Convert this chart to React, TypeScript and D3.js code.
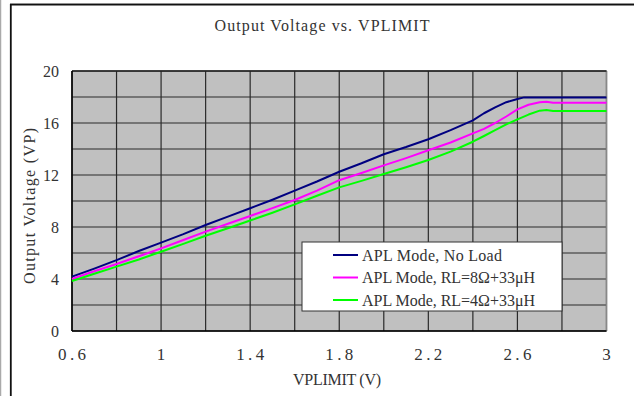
import React from "react";
import * as d3 from "d3";

// VPLIMIT sweep (V)
const xNoLoad = [0.6, 0.7, 0.8, 0.9, 1.0, 1.1, 1.2, 1.3, 1.4, 1.5, 1.6, 1.7, 1.8, 1.9, 2.0, 2.1, 2.2, 2.3, 2.4, 2.45, 2.5, 2.55, 2.6, 2.63, 3.0];
const yNoLoad = [4.18, 4.8, 5.45, 6.15, 6.8, 7.45, 8.15, 8.8, 9.44, 10.1, 10.8, 11.5, 12.25, 12.9, 13.6, 14.15, 14.75, 15.45, 16.2, 16.75, 17.2, 17.6, 17.85, 17.97, 17.97];

const xLoad = [0.6, 0.7, 0.8, 0.9, 1.0, 1.1, 1.2, 1.3, 1.4, 1.5, 1.6, 1.7, 1.8, 1.9, 2.0, 2.1, 2.2, 2.3, 2.4, 2.45, 2.5, 2.55, 2.6, 2.65, 2.7, 2.73, 2.76, 3.0];
const yRL8 = [4.0, 4.6, 5.15, 5.75, 6.36, 7.0, 7.64, 8.25, 8.85, 9.45, 10.08, 10.8, 11.6, 12.15, 12.74, 13.3, 13.9, 14.5, 15.2, 15.55, 16.0, 16.5, 17.05, 17.4, 17.6, 17.64, 17.56, 17.56];
const yRL4 = [3.85, 4.4, 4.95, 5.5, 6.1, 6.7, 7.33, 7.9, 8.5, 9.1, 9.74, 10.4, 11.05, 11.55, 12.08, 12.6, 13.15, 13.8, 14.56, 15.0, 15.45, 15.9, 16.28, 16.65, 16.95, 17.0, 16.92, 16.92];

const seriesNames = ["APL Mode, No Load", "APL Mode, RL=8Ω+33μH", "APL Mode, RL=4Ω+33μH"];
const seriesColors = ["#000080", "#FF00FF", "#00FF00"];

const xTicks = [0.6, 1.0, 1.4, 1.8, 2.2, 2.6, 3.0];
const xTickLabels = ["0.6", "1", "1.4", "1.8", "2.2", "2.6", "3"];
const yTicks = [0, 4, 8, 12, 16, 20];

const W = 634;
const H = 396;
const FONT = "'Liberation Serif', 'DejaVu Serif', serif";
const INK = "#333";

export default function App() {
  const left = 72, right = 606.5, top = 71, bottom = 331;
  const x = d3.scaleLinear().domain([0.6, 3.0]).range([left, right]);
  const y = d3.scaleLinear().domain([0, 20]).range([bottom, top]);

  const gridX = d3.range(0.6, 3.0001, 0.2);
  const gridY = d3.range(0, 20.0001, 2);

  const line = d3
    .line<[number, number]>()
    .x((d) => x(d[0]))
    .y((d) => y(d[1]));

  const series: [number, number][][] = [
    xNoLoad.map((v, i) => [v, yNoLoad[i]]),
    xLoad.map((v, i) => [v, yRL8[i]]),
    xLoad.map((v, i) => [v, yRL4[i]]),
  ];

  const legendWidths = [140, 173, 173];

  return (
    <svg
      width={W}
      height={H}
      style={{ position: "absolute", left: 0, top: 0, background: "#fff" }}
    >
      {/* outer frame */}
      <line x1={0.5} y1={0} x2={0.5} y2={H} stroke="#aaa" strokeWidth={1.5} />
      <line x1={10} y1={3.5} x2={W} y2={3.5} stroke="#bbb" strokeWidth={1} />
      <path d={`M10.8,${H} V4.6 H${W}`} fill="none" stroke="#111" strokeWidth={1.8} />

      {/* title */}
      <text x={322} y={31} fontFamily={FONT} fontSize={16} textAnchor="middle" textLength={215} lengthAdjust="spacing" fill={INK}>
        Output Voltage vs. VPLIMIT
      </text>

      {/* plot background */}
      <rect x={left} y={top} width={right - left} height={bottom - top} fill="#C0C0C0" />

      {/* grid */}
      {gridX.map((v, i) => (
        <line key={"gx" + i} x1={x(v)} x2={x(v)} y1={top} y2={bottom} stroke="#2a2a2a" strokeWidth={1.2} />
      ))}
      {gridY.map((v, i) => (
        <line key={"gy" + i} x1={left} x2={right} y1={y(v)} y2={y(v)} stroke="#2a2a2a" strokeWidth={1.2} />
      ))}
      <line x1={right} x2={right} y1={top} y2={bottom} stroke="#888" strokeWidth={1.5} />
      <line x1={left} x2={right} y1={top} y2={top} stroke="#222" strokeWidth={1.5} />
      <line x1={left} x2={left} y1={top} y2={bottom} stroke="#000" strokeWidth={1.5} />
      <line x1={left} x2={right} y1={bottom} y2={bottom} stroke="#000" strokeWidth={1.5} />

      {/* data lines */}
      {series.map((s, i) => (
        <path key={"s" + i} d={line(s) || ""} fill="none" stroke={seriesColors[i]} strokeWidth={2} strokeLinejoin="round" />
      ))}

      {/* y tick labels */}
      {yTicks.map((v) => (
        <text key={"yt" + v} x={59} y={y(v) + 6} fontFamily={FONT} fontSize={17} textAnchor="end" textLength={String(v).length * 8} lengthAdjust="spacingAndGlyphs" fill={INK}>
          {v}
        </text>
      ))}

      {/* x tick labels */}
      {xTicks.map((v, i) => (
        <text key={"xt" + i} x={x(v)} y={360} fontFamily={FONT} fontSize={17} textAnchor="middle" textLength={xTickLabels[i].length * 8 + (xTickLabels[i].length > 1 ? 4 : 0)} lengthAdjust="spacing" fill={INK}>
          {xTickLabels[i]}
        </text>
      ))}

      {/* axis titles */}
      <text x={337} y={385} fontFamily={FONT} fontSize={16} textAnchor="middle" textLength={88} lengthAdjust="spacing" fill={INK}>
        VPLIMIT (V)
      </text>
      <text transform="translate(35,206) rotate(-90)" fontFamily={FONT} fontSize={16} textAnchor="middle" textLength={156} lengthAdjust="spacing" fill={INK}>
        Output Voltage (VP)
      </text>

      {/* legend */}
      <rect x={302} y={242} width={260} height={69} fill="#fff" stroke="#333" strokeWidth={1} />
      {seriesNames.map((name, i) => (
        <g key={"lg" + i}>
          <line x1={333} x2={358} y1={255 + i * 22.5} y2={255 + i * 22.5} stroke={seriesColors[i]} strokeWidth={2} />
          <text x={362} y={260.5 + i * 22.5} fontFamily={FONT} fontSize={16} textLength={legendWidths[i]} lengthAdjust="spacing" fill={INK}>
            {name}
          </text>
        </g>
      ))}
    </svg>
  );
}
